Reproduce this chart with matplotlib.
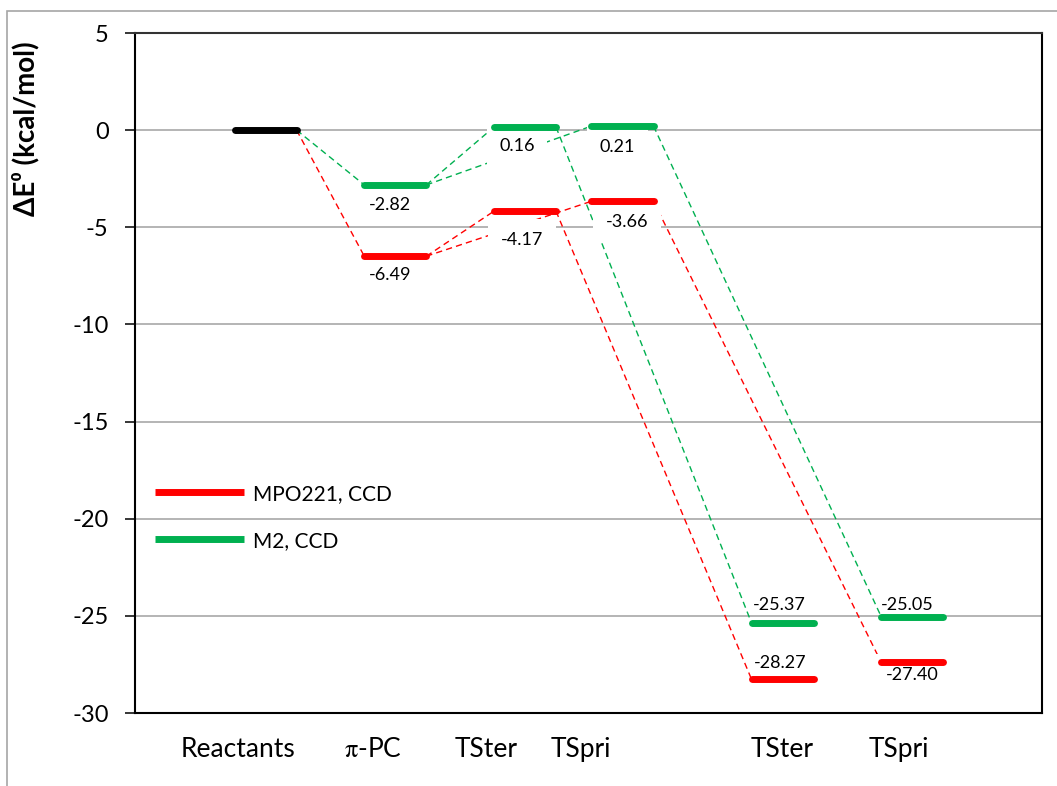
import matplotlib
matplotlib.use("Agg")
import matplotlib.pyplot as plt
from matplotlib.lines import Line2D
from matplotlib.patches import Rectangle

plt.rcParams['font.family'] = ['Lato', 'DejaVu Sans']
plt.rcParams['mathtext.fontset'] = 'stix'

# ---- data -------------------------------------------------------------
stage_names = ["Reactants", r"$\mathrm{\pi}$-PC", "TSter", "TSpri", "TSter", "TSpri"]
series_names = ["MPO221, CCD", "M2, CCD"]
reactants_energy = 0.0
# relative energies (kcal/mol) for π-PC, TSter, TSpri, TSter(product side), TSpri(product side)
mpo221_energy = [-6.49, -4.17, -3.66, -28.27, -27.40]
m2_energy = [-2.82, 0.16, 0.21, -25.37, -25.05]
y_ticks = [5, 0, -5, -10, -15, -20, -25, -30]

# ---- layout -----------------------------------------------------------
stage_x = [1.44, 2.87, 4.30, 5.375, 7.14, 8.57]   # level centres
half_w = 0.342                                    # half length of a level bar
name_x = [1.14, 2.62, 3.87, 4.92, 7.13, 8.42]     # category label centres
# pathway edges between levels: (from stage index, to stage index)
edges = [(0, 1), (1, 2), (1, 3), (2, 4), (3, 5)]
# value-label offsets in pixels (dx, dy); labels below a level get a white box
mpo_lbl = [(-5, -20), (-3, -30), (4.5, -22), (-2, 14.5), (0, -13.6)]
m2_lbl = [(-5, -21.5), (-8, -20), (-5, -22), (-3, 16.5), (-5, 10)]

RED = "#FF0000"
GREEN = "#00B050"

fig = plt.figure(figsize=(10.57, 7.86), dpi=100)
fig.add_artist(Rectangle((7 / 1057, -0.1), 1.2, 1 - 11 / 786 + 0.1,
                         transform=fig.transFigure, fill=False,
                         edgecolor="#A6A6A6", linewidth=1.2))
ax = fig.add_axes([135 / 1057, 1 - 713 / 786, (1042 - 135) / 1057, (713 - 33) / 786])

ax.set_xlim(0, 10)
ax.set_ylim(-30, 5)
ax.set_yticks(y_ticks)
ax.set_yticklabels([str(t) for t in y_ticks])
ax.set_xticks([])
ax.tick_params(axis='y', direction='out', length=7, width=1.1, pad=12,
               labelsize=17, color='black')
for side, sp in ax.spines.items():
    sp.set_linewidth(1.5)
    sp.set_color('black' if side in ('left', 'bottom', 'right') else '#333333')
    sp.set_zorder(6)

for t in y_ticks[1:-1]:
    ax.axhline(t, color="#A0A0A0", linewidth=1.1, zorder=1)


def energies(series):
    return [reactants_energy] + list(series)


def draw_series(vals, color, label_offsets):
    # dashed connectors
    for a, b in edges:
        ax.plot([stage_x[a] + half_w, stage_x[b] - half_w], [vals[a], vals[b]],
                color=color, linewidth=1.0, dashes=(4.5, 3), zorder=2)
    # level bars
    for i in range(1, len(vals)):
        ax.plot([stage_x[i] - half_w, stage_x[i] + half_w], [vals[i], vals[i]],
                color=color, linewidth=5, solid_capstyle='round', zorder=5)
    # value labels
    for i, (dx, dy) in zip(range(1, len(vals)), label_offsets):
        box = dict(boxstyle='square,pad=0.7', fc='white', ec='none') if dy < 0 else None
        ax.annotate(f"{vals[i]:.2f}", xy=(stage_x[i], vals[i]), xytext=(dx, dy + 1.5),
                    textcoords='offset pixels', ha='center', va='center',
                    fontsize=13, color='black', bbox=box, zorder=4)


draw_series(energies(mpo221_energy), RED, mpo_lbl)
draw_series(energies(m2_energy), GREEN, m2_lbl)

# reactants level
ax.plot([stage_x[0] - half_w, stage_x[0] + half_w], [reactants_energy] * 2,
        color='black', linewidth=5, solid_capstyle='round', zorder=5)

# stage names under the axis
for x, name in zip(name_x, stage_names):
    ax.text(x, -31.9, name, ha='center', va='center', fontsize=19,
            color='black', clip_on=False)

ax.set_ylabel("ΔE⁰ (kcal/mol)", fontsize=20, fontweight='bold')
ax.yaxis.set_label_coords(-0.105, 0.86)

handles = [Line2D([], [], color=RED, linewidth=5, solid_capstyle='butt'),
           Line2D([], [], color=GREEN, linewidth=5, solid_capstyle='butt')]
ax.legend(handles, series_names, loc='center left', bbox_to_anchor=(0.022, 0.288),
          frameon=False, fontsize=15, handlelength=4.27, handletextpad=0.43,
          labelspacing=1.3, borderpad=0, borderaxespad=0)

fig.savefig("out.png", dpi=100)
